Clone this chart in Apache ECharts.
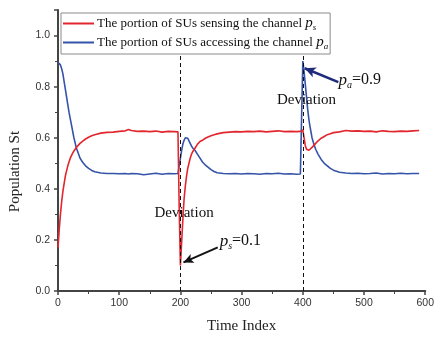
<!DOCTYPE html>
<html>
<head>
<meta charset="utf-8">
<script src="https://cdn.jsdelivr.net/npm/echarts@6/dist/echarts.min.js"></script>
<style>html,body{margin:0;padding:0;background:#fff;}#c{width:437px;height:339px;}</style>
</head>
<body>
<div id="c"></div>
<script>
var timeIndex = [0,2,4,6,8,10,12,14,16,18,20,22,24,26,28,30,33,36,40,45,50,55,60,70,80,90,100,110,115,120,130,140,150,160,170,180,190,196,
198,200,202,204,206,208,210,212,214,216,218,220,224,228,232,236,240,245,250,255,260,270,280,290,300,310,320,330,340,350,360,370,380,390,396,
398,400,402,404,406,408,410,412,415,418,421,425,430,435,440,445,450,460,470,480,490,500,510,520,530,540,550,560,570,580,590,600];

var sensing = [0.17,0.24,0.30,0.35,0.39,0.42,0.45,0.47,0.49,0.505,0.52,0.53,0.54,0.548,0.555,0.562,0.57,0.578,0.586,0.595,0.602,0.608,0.612,0.618,0.621,0.622,0.625,0.627,0.632,0.628,0.625,0.626,0.624,0.626,0.622,0.625,0.624,0.623,
0.33,0.10,0.19,0.28,0.36,0.41,0.45,0.48,0.50,0.52,0.535,0.545,0.56,0.575,0.585,0.59,0.597,0.603,0.608,0.612,0.615,0.62,0.622,0.624,0.623,0.625,0.624,0.626,0.623,0.625,0.627,0.624,0.625,0.624,0.625,
0.627,0.63,0.60,0.57,0.555,0.55,0.551,0.555,0.562,0.57,0.578,0.588,0.598,0.605,0.612,0.616,0.62,0.623,0.628,0.626,0.627,0.625,0.626,0.623,0.627,0.625,0.624,0.626,0.625,0.627,0.628];

var accessing = [0.895,0.893,0.885,0.87,0.85,0.82,0.79,0.76,0.73,0.70,0.675,0.65,0.625,0.60,0.58,0.56,0.54,0.52,0.505,0.49,0.48,0.472,0.467,0.462,0.46,0.46,0.459,0.46,0.458,0.46,0.459,0.455,0.458,0.461,0.457,0.46,0.459,0.46,
0.46,0.52,0.55,0.575,0.59,0.60,0.603,0.598,0.588,0.578,0.568,0.56,0.55,0.535,0.52,0.505,0.495,0.485,0.475,0.468,0.463,0.46,0.459,0.46,0.458,0.46,0.459,0.457,0.46,0.459,0.461,0.458,0.459,0.457,0.458,
0.458,0.90,0.86,0.81,0.76,0.71,0.67,0.64,0.60,0.575,0.555,0.535,0.515,0.50,0.49,0.48,0.473,0.465,0.462,0.46,0.461,0.459,0.46,0.462,0.458,0.46,0.459,0.461,0.459,0.46,0.46];

var xTicks = [0,100,200,300,400,500,600];
var yTicks = [0.0,0.2,0.4,0.6,0.8,1.0];
var deviationTimes = [200,400];
var legendNames = ['The portion of SUs sensing the channel', 'The portion of SUs accessing the channel'];

function pairs(vals){ return timeIndex.map(function(t,i){ return [t, vals[i]]; }); }

var serif = '"Liberation Serif","Times New Roman",serif';
var chart = echarts.init(document.getElementById('c'), null, {renderer:'canvas'});
var option = {
  animation: false,
  backgroundColor: '#fff',
  grid: {left: 54, right: 6, top: 10, bottom: 48, containLabel: false},
  legend: {
    orient: 'vertical', left: 61, top: 13,
    padding: [3, 2, 3, 2],
    icon: 'rect',
    itemWidth: 31, itemHeight: 2, itemGap: 3,
    borderColor: '#8a8a8a', borderWidth: 1,
    data: legendNames,
    formatter: function(n){
      return n === legendNames[0] ? n + ' {p|p}{s|s}' : n + ' {p|p}{s|a}';
    },
    textStyle: {
      fontFamily: serif, fontSize: 13, color: '#111', padding: [0,0,0,-2],
      rich: {
        p: {fontFamily: serif, fontStyle: 'italic', fontSize: 15, color: '#111'},
        s: {fontFamily: serif, fontStyle: 'italic', fontSize: 9, color: '#111', padding: [8,0,0,0]}
      }
    }
  },
  xAxis: {
    type: 'value', min: 0, max: 600, interval: 100,
    name: 'Time Index', nameLocation: 'middle', nameGap: 28,
    nameTextStyle: {fontFamily: serif, fontSize: 15, color: '#222'},
    axisLine: {show: true, lineStyle: {color: '#444', width: 2}},
    axisTick: {show: true, length: 4, lineStyle: {color: '#444', width: 1.5}},
    minorTick: {show: true, splitNumber: 2, length: 3, lineStyle: {color: '#444', width: 1}},
    axisLabel: {fontFamily: '"Liberation Sans",Arial,sans-serif', fontSize: 10.5, color: '#333', margin: 7,
      formatter: function(v){ return xTicks.indexOf(v) >= 0 ? String(v) : ''; }},
    splitLine: {show: false}
  },
  yAxis: {
    type: 'value', min: 0, max: 1.1, interval: 0.2,
    name: 'Population St', nameLocation: 'middle', nameGap: 35,
    nameTextStyle: {fontFamily: serif, fontSize: 15, color: '#222', padding: [0, 42, 0, 0]},
    axisLine: {show: true, lineStyle: {color: '#444', width: 2}},
    axisTick: {show: true, length: 4, lineStyle: {color: '#444', width: 1.5}},
    minorTick: {show: true, splitNumber: 2, length: 3, lineStyle: {color: '#444', width: 1}},
    axisLabel: {fontFamily: '"Liberation Sans",Arial,sans-serif', fontSize: 10.5, color: '#333', margin: 8,
      formatter: function(v){
        for (var i=0;i<yTicks.length;i++){ if (Math.abs(yTicks[i]-v) < 1e-6) return yTicks[i].toFixed(1); }
        return '';
      }},
    splitLine: {show: false}
  },
  series: [
    {
      name: legendNames[0], type: 'line', data: pairs(sensing),
      symbol: 'none', lineStyle: {color: '#e2262e', width: 1.6}, itemStyle: {color: '#e2262e'},
      z: 3
    },
    {
      name: legendNames[1], type: 'line', data: pairs(accessing),
      symbol: 'none', lineStyle: {color: '#3553a8', width: 1.6}, itemStyle: {color: '#3553a8'},
      z: 2
    },
    {
      name: 'annotations', type: 'line', data: [], silent: true,
      markLine: {
        silent: true, animation: false,
        label: {show: false},
        data: [
          [{coord: [deviationTimes[0], 0], symbol: 'none', lineStyle: {color: '#111', type: [4,3], width: 1}},
           {coord: [deviationTimes[0], 0.92], symbol: 'none'}],
          [{coord: [deviationTimes[1], 0], symbol: 'none', lineStyle: {color: '#111', type: [4,3], width: 1}},
           {coord: [deviationTimes[1], 0.92], symbol: 'none'}],
          [{coord: [261, 0.171], symbol: 'none', lineStyle: {color: '#111', type: 'solid', width: 2}},
           {coord: [205, 0.112], symbol: 'arrow', symbolSize: [7, 10]}],
          [{coord: [458, 0.818], symbol: 'none', lineStyle: {color: '#1e2a7a', type: 'solid', width: 2.5}},
           {coord: [403, 0.872], symbol: 'arrow', symbolSize: [8, 11]}]
        ]
      },
      markPoint: {
        silent: true, animation: false,
        symbol: 'circle', symbolSize: 1, itemStyle: {color: 'rgba(0,0,0,0)'},
        label: {show: true, position: 'inside', fontFamily: serif, fontSize: 15, color: '#111',
          rich: {
            p: {fontFamily: serif, fontStyle: 'italic', fontSize: 17, color: '#111'},
            s: {fontFamily: serif, fontStyle: 'italic', fontSize: 10, color: '#111', padding: [10,0,0,0]},
            n: {fontFamily: serif, fontSize: 16, color: '#111'}
          }},
        data: [
          {coord: [206, 0.304], label: {formatter: 'Deviation'}},
          {coord: [406, 0.747], label: {formatter: 'Deviation'}},
          {coord: [298, 0.195], label: {formatter: '{p|p}{s|s}{n|=0.1}'}},
          {coord: [493, 0.825], label: {formatter: '{p|p}{s|a}{n|=0.9}'}}
        ]
      }
    }
  ]
};
chart.setOption(option);
</script>
</body>
</html>
